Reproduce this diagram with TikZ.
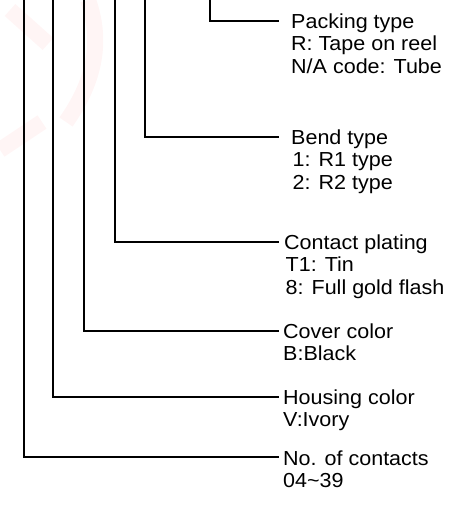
\documentclass[tikz,border=0pt]{standalone}
\usepackage{fontspec}
\setmainfont{Liberation Sans}[FakeStretch=1.06]
\tikzset{
  lead/.style={line width=1.5pt, black},
  lbl/.style={anchor=base west, inner sep=0pt, font=\fontsize{20.3}{22.3}\selectfont},
  wmark/.style={line width=16pt, red!4, line cap=butt}
}
\newcommand\lines[1]{\begin{tabular}[t]{@{}l@{}}#1\end{tabular}}
\begin{document}
\begin{tikzpicture}[x=1pt,y=-1pt]
\useasboundingbox (0,0) rectangle (451,510);
% faint watermark
\draw[wmark] (10,10) -- (48,44);
\draw[wmark] (88,0) .. controls (104,45) and (92,85) .. (66,122);
\draw[wmark] (0,150) -- (42,122);
% tops of the leads
\coordinate (t1) at (24,0);
\coordinate (t2) at (53,0);
\coordinate (t3) at (84,0);
\coordinate (t4) at (115,0);
\coordinate (t5) at (145,0);
\coordinate (t6) at (210,0);
% ends of the leads
\coordinate (e6) at (279,21);
\coordinate (e5) at (279,137);
\coordinate (e4) at (279,242);
\coordinate (e3) at (279,331);
\coordinate (e2) at (279,397);
\coordinate (e1) at (279,457);
% labels
\node[lbl] (pk) at (291,28.5) {\lines{Packing type\\R: Tape on reel\\N/A code: Tube}};
\node[lbl] (bt) at (291,144.5) {\lines{Bend type\\\kern1.5pt1: R1 type\\\kern1.5pt2: R2 type}};
\node[lbl] (cp) at (284,249.5) {\lines{Contact plating\\\kern1.5pt T1: Tin\\\kern1.5pt 8: Full gold flash}};
\node[lbl] (cc) at (283,338.5) {\lines{Cover color\\B:Black}};
\node[lbl] (hc) at (283,404.5) {\lines{Housing color\\V:Ivory}};
\node[lbl] (nc) at (283,465) {\lines{No. of contacts\\04\textasciitilde 39}};
% leads
\draw[lead] (t6) |- (e6);
\draw[lead] (t5) |- (e5);
\draw[lead] (t4) |- (e4);
\draw[lead] (t3) |- (e3);
\draw[lead] (t2) |- (e2);
\draw[lead] (t1) |- (e1);
\end{tikzpicture}
\end{document}
